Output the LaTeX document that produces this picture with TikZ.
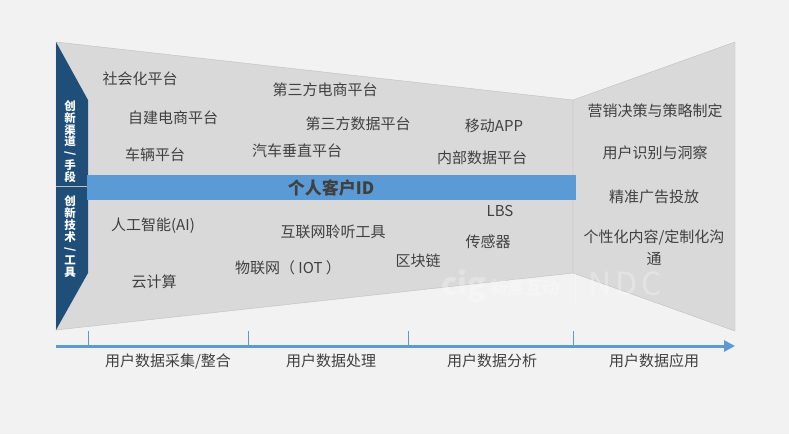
\documentclass[tikz,border=0pt]{standalone}
\usepackage{fontspec}
\setmainfont{Noto Sans CJK SC}
\usetikzlibrary{arrows.meta}
\definecolor{pagebg}{HTML}{F2F2F2}
\definecolor{funnelgray}{HTML}{D9D9D9}
\definecolor{funnelline}{HTML}{BFBFBF}
\definecolor{sidenavy}{HTML}{1F4E79}
\definecolor{barblue}{HTML}{5B9BD5}
\definecolor{labelgray}{HTML}{404040}
\newcommand{\vslash}{\rotatebox[origin=c]{-90}{/}}
\tikzset{
  lbl/.style={text=labelgray, font=\fontsize{15}{18}\selectfont, inner sep=0pt},
  sidelbl/.style={text=white, font=\fontsize{11.5}{11.8}\selectfont\bfseries, inner sep=0pt, text width=15pt, align=center},
  tick/.style={barblue, line width=0.8pt},
  wm/.style={text=white, opacity=0.28, inner sep=0pt}
}
\begin{document}
\begin{tikzpicture}[x=1pt,y=-1pt]

    % Page
    \fill[pagebg] (0,0) rectangle (789,434);
    \useasboundingbox (0,0) rectangle (789,434);

    % Funnel (two gray panels)
    \draw[fill=funnelgray,draw=funnelline] (56,42) -- (573,100) -- (573,273) -- (56,330) -- cycle;
    \draw[fill=funnelgray,draw=funnelline] (573,100) -- (735,42) -- (735,331) -- (573,273) -- cycle;

    % Dark side panel
    \fill[sidenavy] (56,42) -- (88,100) -- (88,273) -- (56,330) -- cycle;
    \draw[funnelline] (56,186) -- (88,186);
    \node[sidelbl] (channel) at (70,141.5) {创\\新\\渠\\道\\\vslash\\手\\段};
    \node[sidelbl] (tech) at (70,237) {创\\新\\技\\术\\\vslash\\工\\具};

    % Blue bar
    \fill[barblue] (87,175) rectangle (576,200);
    \node[text=labelgray,font=\fontsize{17}{20}\selectfont\bfseries,inner sep=0pt] (customer) at (331,188) {个人客户ID};

    % Watermark
    \node[wm,font=\fontsize{31}{31}\selectfont\bfseries] (wmcig) at (464,286) {cig};
    \node[wm,font=\fontsize{17.5}{18}\selectfont\bfseries] (wmname) at (525,288) {新意互动};
    \draw[white,opacity=0.28] (575,273) -- (575,304);
    \node[wm,font=\fontsize{32}{32}\selectfont] (wmndc) at (625,284) {N\hspace{4pt}D\hspace{4pt}C};

    % Upper labels
    \node[lbl] (social) at (140,79) {社会化平台};
    \node[lbl] (selfshop) at (173,118) {自建电商平台};
    \node[lbl] (vehicle) at (155,155) {车辆平台};
    \node[lbl] (thirdshop) at (325,90) {第三方电商平台};
    \node[lbl] (thirddata) at (358,124) {第三方数据平台};
    \node[lbl] (autosite) at (297,151) {汽车垂直平台};
    \node[lbl] (mobile) at (494,126) {移动APP};
    \node[lbl] (inner) at (482,158) {内部数据平台};

    % Lower labels
    \node[lbl] (ai) at (153,226) {人工智能(AI)};
    \node[lbl] (cloud) at (154,282) {云计算};
    \node[lbl] (listen) at (333,232) {互联网聆听工具};
    \node[lbl] (iot) at (288,268) {物联网（ IOT ）};
    \node[lbl] (chain) at (418,261) {区块链};
    \node[lbl] (lbs) at (500,211) {LBS};
    \node[lbl] (sensor) at (488,242) {传感器};

    % Right panel labels
    \node[lbl] (decision) at (655,111) {营销决策与策略制定};
    \node[lbl] (insight) at (655,153) {用户识别与洞察};
    \node[lbl] (adtarget) at (654,197) {精准广告投放};
    \node[lbl,align=center,font=\fontsize{15}{22}\selectfont] (custom) at (654,248) {个性化内容/定制化沟\\通};

    % Timeline
    \coordinate (axisL) at (56,346);
    \coordinate (axisR) at (735,346);
    \draw[-{Triangle[length=11pt,width=11pt]},barblue,line width=3pt] (axisL) -- (axisR);
    \draw[tick] (88,331) -- (88,345);
    \draw[tick] (248,331) -- (248,345);
    \draw[tick] (408,331) -- (408,345);
    \draw[tick] (573,331) -- (573,345);

    % Stage labels
    \node[lbl] (collect) at (168,361) {用户数据采集/整合};
    \node[lbl] (process) at (331,361) {用户数据处理};
    \node[lbl] (analyse) at (492,361) {用户数据分析};
    \node[lbl] (apply) at (654,361) {用户数据应用};

\end{tikzpicture}
\end{document}
